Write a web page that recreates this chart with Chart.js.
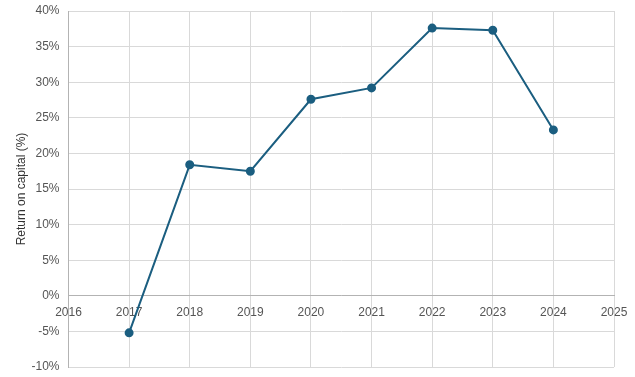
<!DOCTYPE html>
<html><head><meta charset="utf-8">
<script src="https://cdn.jsdelivr.net/npm/chart.js@4"></script>
<style>html,body{margin:0;padding:0;background:#fff}#wrap{width:635px;height:377px}</style>
</head><body><div id="wrap"><canvas id="c"></canvas></div>
<script>
const years = [2017, 2018, 2019, 2020, 2021, 2022, 2023, 2024];
const returnOnCapital = [-5.2, 18.4, 17.5, 27.6, 29.2, 37.6, 37.3, 23.3];
const xMin = 2016, xMax = 2025;
const yMin = -10, yMax = 40, yStep = 5;

Chart.defaults.font.family = '"Liberation Sans", Arial, Helvetica, sans-serif';
Chart.defaults.font.size = 12;
Chart.defaults.color = '#666';

new Chart(document.getElementById('c'), {
  type: 'line',
  data: {
    datasets: [{
      data: years.map((y, i) => ({x: y, y: returnOnCapital[i]})),
      borderColor: '#1b5e80',
      backgroundColor: '#1b5e80',
      borderWidth: 2,
      pointRadius: 3.5,
      pointHoverRadius: 4,
      tension: 0
    }]
  },
  options: {
    responsive: true,
    maintainAspectRatio: false,
    animation: false,
    layout: {padding: {top: 11, right: 21, left: 10, bottom: 10}},
    plugins: {legend: {display: false}, tooltip: {enabled: false}},
    scales: {
      x: {
        type: 'linear',
        position: {y: 0},
        min: xMin, max: xMax,
        afterFit: s => { s.height = 0; s.paddingLeft = 0; s.paddingRight = 0; },
        ticks: {stepSize: 1, callback: v => String(v), color: '#555', padding: 10},
        grid: {color: '#d9d9d9', drawTicks: false},
        border: {color: '#b3b3b3'}
      },
      y: {
        min: yMin, max: yMax,
        afterFit: s => { s.width = 58.5; s.paddingTop = 0; s.paddingBottom = 0; },
        ticks: {stepSize: yStep, callback: v => v + '%', color: '#555', padding: 9},
        grid: {color: '#d9d9d9', drawTicks: false},
        border: {color: '#b3b3b3'},
        title: {display: true, text: 'Return on capital (%)', color: '#333', font: {size: 12}, padding: {top: 4, bottom: 4}}
      }
    }
  }
});
</script></body></html>
